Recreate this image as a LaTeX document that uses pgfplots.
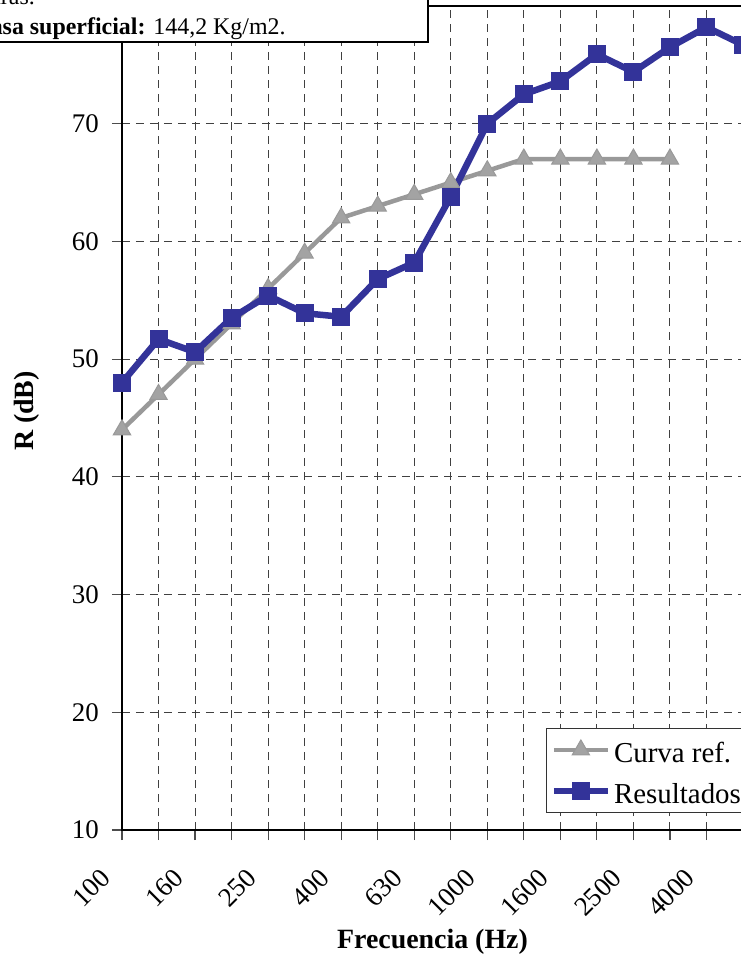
\documentclass[border=0pt]{standalone}
\usepackage{fontspec}
\setmainfont{Liberation Serif}
\usepackage{pgfplots}
\pgfplotsset{compat=1.18}

\definecolor{azul}{HTML}{333399}
\definecolor{gris}{HTML}{999999}
\definecolor{grisclaro}{HTML}{A3A3A3}

\begin{document}
\begin{tikzpicture}
% the reference is a crop of a larger chart: keep only that window
\useasboundingbox (-122bp,-136bp) rectangle (619bp,830bp);
\clip (-122bp,-136bp) rectangle (619bp,830bp);
\begin{axis}[
  at={(0,0)}, anchor=south west,
  scale only axis, width=621bp, height=824bp,
  xmin=0, xmax=17, ymin=10, ymax=80,
  xtick={0,...,17},
  xticklabels={100,,160,,250,,400,,630,,1000,,1600,,2500,,4000,},
  ytick={10,20,...,70},
  xmajorgrids=true, ymajorgrids=true,
  grid style={black!75, line width=1.1bp, dash pattern=on 8bp off 6bp},
  tick align=outside, xtick pos=lower, ytick pos=left,
  major tick length=10bp,
  tick style={black!70, line width=1.2bp},
  axis line style={line width=1.4bp},
  clip=false,
  /pgf/number format/assume math mode=true,
  ticklabel style={font=\fontsize{27}{32}\selectfont},
  yticklabel style={anchor=east, inner sep=0pt, xshift=-13bp},
  % shifts first, so that they are not turned by the rotation
  xticklabel style={xshift=-23bp, yshift=-27bp, rotate=45, anchor=north east, inner sep=0pt},
  xlabel={Frecuencia (Hz)},
  ylabel={R (dB)},
  label style={font=\fontsize{28}{34}\selectfont\bfseries},
  xlabel style={at={(0.5,-0.1432)}, anchor=base},
  ylabel style={at={(-0.1433,0.5085)}, anchor=base},
  legend cell align=left,
  legend style={at={(0.6828,0.0206)}, anchor=south west, draw=black!80,
    line width=1.2bp, inner xsep=4bp, inner ysep=1bp,
    font=\fontsize{29}{34}\selectfont,
    nodes={text height=27bp, text depth=2bp, inner xsep=3bp, inner ysep=6bp}},
  legend image code/.code={
    \draw[mark repeat=2, mark phase=2, #1] plot coordinates {(0bp,0bp) (27bp,0bp) (54bp,0bp)};},
]

\addplot[color=gris, line width=4.5bp, mark=triangle*, mark size=10bp,
  mark options={fill=grisclaro, draw=gris, line width=1bp}]
  coordinates {
    (0,44) (1,47) (2,50) (3,53) (4,56) (5,59) (6,62) (7,63)
    (8,64) (9,65) (10,66) (11,67) (12,67) (13,67) (14,67) (15,67)
  };

\addplot[color=azul, line width=6.5bp, mark=square*, mark size=8.5bp,
  mark options={fill=azul, draw=azul, line width=1bp}]
  coordinates {
    (0,48) (1,51.7) (2,50.6) (3,53.5) (4,55.4) (5,53.9) (6,53.6) (7,56.8)
    (8,58.2) (9,63.8) (10,70.0) (11,72.5) (12,73.6) (13,75.9) (14,74.4)
    (15,76.5) (16,78.2) (17,76.7)
  };

\legend{Curva ref., Resultados}
\end{axis}

% info box in the upper left corner, drawn over the plot
\draw[fill=white, line width=1.8bp] (-260bp,788bp) rectangle (306bp,900bp);
\node[anchor=base east, inner sep=0pt, font=\fontsize{24}{29}\selectfont]
  at (-87bp,825bp) {cámaras.};
\node[anchor=base west, inner sep=0pt, font=\fontsize{24}{29}\selectfont]
  at (-154bp,795bp) {\textbf{Masa superficial:} 144,2 Kg/m2.};
\end{tikzpicture}
\end{document}
